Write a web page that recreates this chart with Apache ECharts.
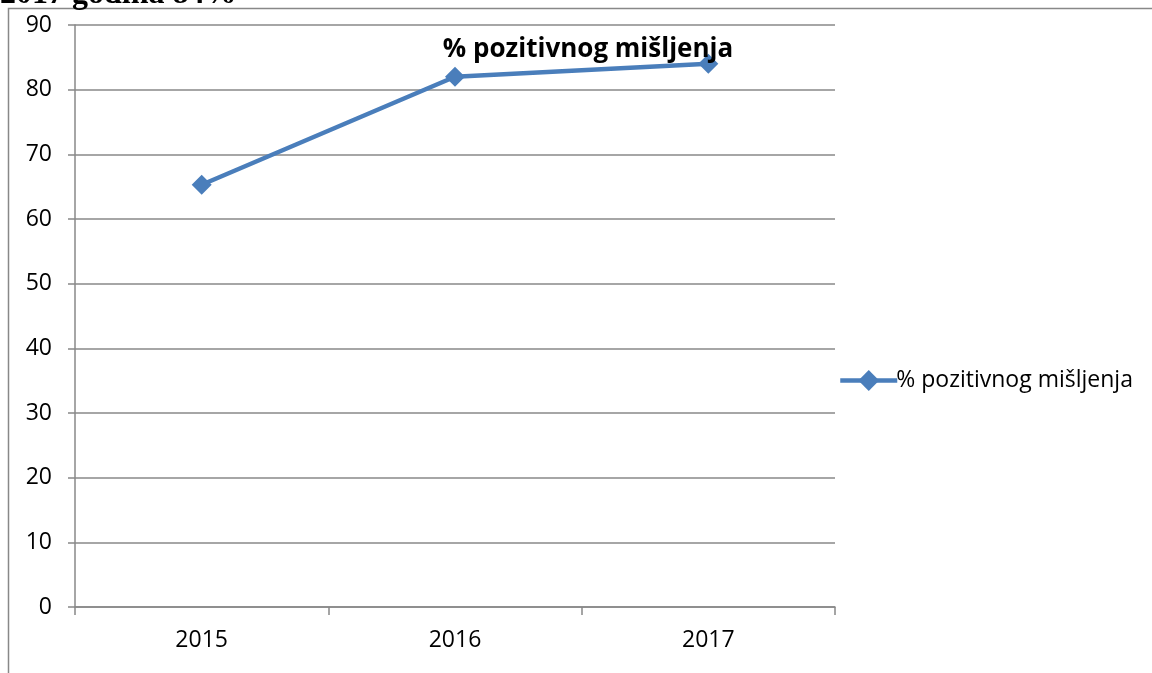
<!DOCTYPE html>
<html>
<head>
<meta charset="utf-8">
<script src="https://cdn.jsdelivr.net/npm/echarts@6/dist/echarts.min.js"></script>
<style>
  html, body { margin: 0; padding: 0; background: #fff; }
  #main { width: 1152px; height: 673px; }
</style>
</head>
<body>
<div id="main"></div>
<script>
// podaci s grafikona
var years = ["2015", "2016", "2017"];
var positive = [65.3, 82, 84];
var seriesName = "% pozitivnog mišljenja";
var headerText = "2017 godina 84%";

var chart = echarts.init(document.getElementById("main"));
chart.setOption({
  backgroundColor: "#fff",
  animation: false,
  title: {
    text: seriesName,
    left: 583,
    textAlign: "center",
    top: 32,
    textStyle: {
      fontFamily: "Open Sans",
      fontWeight: "bold",
      fontSize: 26,
      color: "#000"
    }
  },
  legend: {
    orient: "vertical",
    left: 833,
    top: 364,
    itemWidth: 57,
    itemHeight: 26,
    itemGap: 0,
    lineStyle: { width: 4.5 },
    textStyle: {
      fontFamily: "Open Sans",
      fontSize: 23,
      color: "#000",
      padding: [0, 0, 0, -6]
    },
    data: [seriesName]
  },
  grid: {
    left: 75,
    right: 317,
    top: 25,
    bottom: 66
  },
  xAxis: {
    type: "category",
    data: years,
    boundaryGap: true,
    axisLine: { lineStyle: { color: "#888", width: 1.5 } },
    axisTick: { show: true, length: 8, lineStyle: { color: "#888", width: 1.5 } },
    axisLabel: {
      margin: 22,
      fontFamily: "Open Sans",
      fontSize: 23,
      color: "#000"
    }
  },
  yAxis: {
    type: "value",
    min: 0,
    max: 90,
    interval: 10,
    axisLine: { show: true, lineStyle: { color: "#888", width: 1.5 } },
    axisTick: { show: true, length: 7, lineStyle: { color: "#888", width: 1.5 } },
    splitLine: { lineStyle: { color: "#888", width: 1.5 } },
    axisLabel: {
      margin: 23,
      fontFamily: "Open Sans",
      fontSize: 23,
      color: "#000"
    }
  },
  graphic: [
    {
      type: "rect",
      shape: { x: 8.5, y: 8.5, width: 1300, height: 800 },
      style: { fill: "none", stroke: "#888", lineWidth: 1.5 },
      silent: true
    },
    {
      type: "text",
      left: 0,
      top: -21,
      style: {
        text: headerText,
        font: "bold 32px 'Liberation Serif'",
        fill: "#000"
      },
      silent: true
    }
  ],
  series: [
    {
      name: seriesName,
      type: "line",
      data: positive,
      symbol: "diamond",
      symbolSize: 20,
      lineStyle: { color: "#4a7ebb", width: 4.5 },
      itemStyle: { color: "#4a7ebb" }
    }
  ]
});
</script>
</body>
</html>
